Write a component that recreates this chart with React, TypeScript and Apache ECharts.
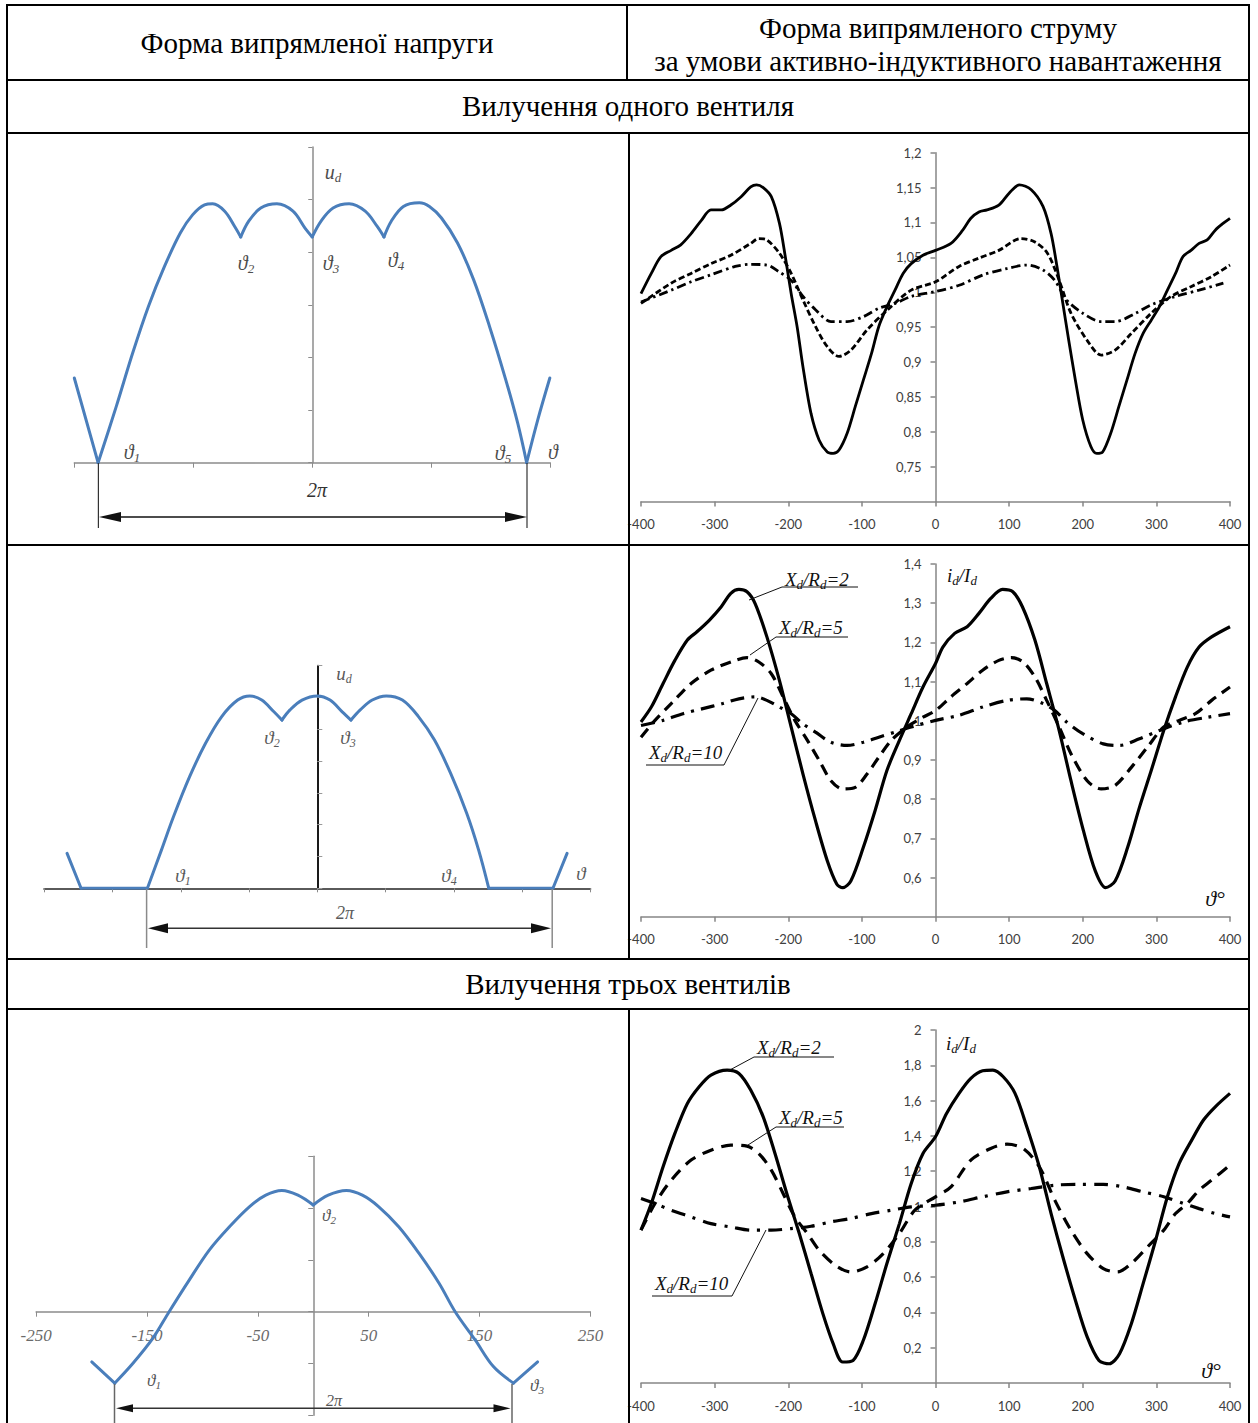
import React, { useEffect, useRef } from 'react';
import * as echarts from 'echarts';

type Pt = [number, number];

// ---------- texts ----------
const headerLeft = 'Форма випрямленої напруги';
const headerRight1 = 'Форма випрямленого струму';
const headerRight2 = 'за умови активно-індуктивного навантаження';
const sectionOne = 'Вилучення одного вентиля';
const sectionThree = 'Вилучення трьох вентилів';

// ---------- left panels: rectified voltage (blue) ----------
const leftV1: Pt[] = [[-200,1.61],[-180,0],[-164.7,1.07],[-151,2.08],[-137.7,2.97],[-124.2,3.73],[-110.8,4.37],[-100.6,4.71],[-90.5,4.90],[-83.7,4.92],[-73.6,4.78],[-65.2,4.49],[-60.1,4.29],[-53.4,4.59],[-43.3,4.84],[-29.7,4.92],[-16.2,4.78],[-6.1,4.46],[0,4.29],[7.4,4.59],[17.5,4.84],[31,4.92],[44.5,4.78],[54.6,4.49],[60.3,4.29],[66.4,4.59],[76.6,4.87],[90,4.94],[98.5,4.87],[108.6,4.65],[122,4.18],[135.6,3.48],[149,2.59],[162.6,1.58],[172.7,0.75],[180.2,0],[189.6,0.82],[199.7,1.61]];
const leftV1Cusps = [-180, -60.1, 0, 60.3, 180.2];

const leftV2: Pt[] = [[-219.9,1.10],[-207.6,0],[-149.3,0],[-137,1.20],[-126.4,2.25],[-112.2,3.51],[-98.2,4.56],[-84,5.40],[-70,5.92],[-59.3,6.05],[-48.8,5.92],[-38.1,5.55],[-31.1,5.29],[-24,5.61],[-13.4,5.92],[0,6.05],[11.2,5.92],[21.9,5.55],[29.6,5.29],[37.7,5.61],[48.3,5.92],[60.6,6.05],[74.8,5.92],[88.9,5.40],[103,4.66],[117.1,3.62],[131.3,2.36],[141.8,1.20],[150.7,0],[207.1,0],[219.5,1.10]];
const leftV2Cusps = [-207.6, -149.3, -31.1, 29.6, 150.7, 207.1];

const leftV3: Pt[] = [[-199.8,-0.97],[-179.1,-1.38],[-162.8,-1.00],[-144.6,-0.51],[-130,0],[-111.9,0.61],[-93.8,1.19],[-75.6,1.64],[-57.4,2.03],[-42.8,2.25],[-28.3,2.34],[-13.8,2.25],[0,2.06],[13.5,2.25],[29.9,2.34],[44.3,2.25],[58.9,2.03],[77.1,1.64],[95.3,1.13],[113.5,0.55],[128,0],[146.2,-0.55],[162.5,-1.06],[180.6,-1.38],[202.4,-0.97]];
const leftV3Cusps = [-179.1, 0, 180.6];
const leftX3Labels = [-250, -150, -50, 50, 150, 250];

// ---------- right panels: rectified current ----------
const r1Solid: Pt[] = [[-400,0.998],[-386,1.027],[-373,1.051],[-359,1.060],[-346,1.068],[-332,1.084],[-318,1.103],[-305,1.118],[-291,1.118],[-278,1.125],[-264,1.137],[-251,1.151],[-243,1.154],[-234,1.150],[-223,1.137],[-212,1.099],[-204,1.051],[-196,0.998],[-188,0.951],[-180,0.893],[-169,0.826],[-158,0.788],[-147,0.771],[-139,0.769],[-131,0.774],[-120,0.798],[-109,0.836],[-98,0.874],[-87,0.912],[-77,0.951],[-66,0.979],[-55,1.003],[-44,1.027],[-33,1.041],[-17,1.053],[0,1.060],[21,1.070],[37,1.089],[48,1.106],[59,1.115],[70,1.118],[86,1.125],[100,1.142],[114,1.154],[130,1.147],[146,1.123],[157,1.084],[165,1.037],[173,0.984],[181,0.931],[190,0.874],[200,0.817],[211,0.779],[219,0.769],[227,0.771],[238,0.798],[249,0.836],[260,0.874],[271,0.912],[282,0.941],[293,0.960],[304,0.979],[315,1.003],[326,1.027],[336,1.051],[347,1.060],[358,1.070],[369,1.075],[380,1.089],[391,1.099],[400,1.106]];
const r1Dashed: Pt[] = [[-400,0.984],[-359,1.013],[-332,1.027],[-305,1.041],[-278,1.053],[-251,1.070],[-240,1.077],[-229,1.075],[-212,1.056],[-196,1.027],[-180,0.989],[-163,0.951],[-147,0.922],[-131,0.908],[-115,0.917],[-93,0.946],[-66,0.974],[-33,1.003],[0,1.015],[32,1.037],[59,1.049],[86,1.060],[116,1.077],[135,1.072],[152,1.056],[168,1.017],[184,0.970],[206,0.931],[225,0.910],[244,0.917],[266,0.941],[293,0.970],[320,0.994],[347,1.008],[374,1.022],[400,1.039]];
const r1DashDot: Pt[] = [[-400,0.986],[-359,1.003],[-332,1.015],[-305,1.025],[-272,1.037],[-251,1.040],[-229,1.039],[-212,1.029],[-196,1.017],[-180,0.994],[-163,0.975],[-142,0.958],[-120,0.958],[-98,0.965],[-77,0.977],[-55,0.984],[-33,0.994],[0,1.001],[32,1.010],[65,1.025],[97,1.034],[124,1.039],[146,1.032],[162,1.017],[178,0.989],[200,0.970],[225,0.958],[244,0.958],[272,0.970],[293,0.982],[326,0.994],[358,1.003],[391,1.013]];

const r2Solid: Pt[] = [[-400,0.997],[-386,1.035],[-370,1.095],[-354,1.154],[-337,1.206],[-324,1.227],[-307,1.257],[-291,1.291],[-278,1.325],[-267,1.335],[-256,1.329],[-245,1.299],[-229,1.214],[-212,1.103],[-196,0.984],[-180,0.864],[-163,0.745],[-147,0.643],[-134,0.583],[-126,0.574],[-115,0.591],[-98,0.677],[-82,0.771],[-66,0.873],[-49,0.950],[-33,1.018],[-17,1.086],[0,1.146],[10,1.188],[26,1.223],[43,1.240],[59,1.274],[75,1.312],[91,1.335],[105,1.329],[118,1.291],[135,1.206],[151,1.095],[168,0.975],[184,0.847],[201,0.719],[217,0.617],[231,0.574],[244,0.591],[261,0.677],[277,0.779],[293,0.873],[310,0.975],[326,1.061],[342,1.137],[358,1.188],[375,1.214],[400,1.240]];
const r2Dashed: Pt[] = [[-400,0.958],[-381,1.001],[-359,1.044],[-332,1.095],[-305,1.129],[-278,1.150],[-256,1.161],[-240,1.150],[-223,1.120],[-207,1.061],[-191,1.001],[-174,0.950],[-158,0.899],[-142,0.847],[-126,0.826],[-109,0.830],[-93,0.864],[-77,0.907],[-60,0.950],[-39,0.984],[-17,1.009],[0,1.026],[21,1.061],[43,1.095],[64,1.129],[86,1.154],[103,1.161],[119,1.150],[135,1.112],[151,1.052],[168,0.984],[184,0.916],[206,0.847],[225,0.826],[244,0.835],[266,0.881],[288,0.933],[310,0.984],[331,1.001],[353,1.018],[375,1.052],[400,1.086]];
const r2DashDot: Pt[] = [[-400,0.988],[-370,1.001],[-343,1.018],[-316,1.031],[-289,1.044],[-267,1.056],[-245,1.061],[-229,1.052],[-212,1.035],[-196,1.018],[-180,0.992],[-163,0.971],[-142,0.945],[-120,0.937],[-98,0.945],[-77,0.958],[-55,0.971],[-33,0.984],[0,1.001],[32,1.014],[64,1.035],[97,1.052],[124,1.056],[146,1.044],[162,1.026],[178,0.997],[200,0.967],[228,0.941],[250,0.937],[277,0.954],[304,0.975],[337,0.997],[370,1.009],[400,1.018]];

const r3Solid: Pt[] = [[-400,0.866],[-386,1.017],[-370,1.225],[-354,1.414],[-337,1.584],[-321,1.679],[-305,1.745],[-283,1.773],[-267,1.754],[-251,1.660],[-234,1.508],[-218,1.300],[-202,1.074],[-185,0.847],[-169,0.620],[-153,0.393],[-139,0.223],[-126,0.119],[-112,0.128],[-98,0.242],[-82,0.450],[-66,0.677],[-49,0.903],[-33,1.130],[-17,1.300],[0,1.395],[15,1.527],[32,1.641],[48,1.726],[64,1.769],[78,1.773],[92,1.735],[108,1.641],[124,1.452],[141,1.225],[157,0.960],[173,0.714],[190,0.469],[206,0.261],[222,0.128],[236,0.109],[250,0.166],[266,0.336],[282,0.563],[299,0.809],[315,1.055],[331,1.244],[348,1.376],[364,1.490],[380,1.565],[400,1.641]];
const r3Dashed: Pt[] = [[-400,0.866],[-381,1.017],[-359,1.149],[-332,1.263],[-305,1.319],[-278,1.348],[-256,1.342],[-240,1.300],[-223,1.206],[-207,1.074],[-191,0.941],[-174,0.847],[-158,0.752],[-136,0.667],[-115,0.629],[-93,0.658],[-71,0.733],[-49,0.847],[-28,0.979],[0,1.055],[21,1.111],[48,1.263],[75,1.329],[97,1.353],[119,1.329],[141,1.225],[162,1.036],[184,0.866],[206,0.733],[228,0.648],[247,0.629],[266,0.677],[288,0.771],[310,0.866],[326,0.960],[342,1.017],[358,1.092],[375,1.149],[400,1.234]];
const r3DashDot: Pt[] = [[-400,1.045],[-381,1.017],[-359,0.979],[-332,0.941],[-305,0.903],[-278,0.884],[-251,0.866],[-223,0.866],[-196,0.875],[-169,0.888],[-142,0.913],[-115,0.932],[-87,0.960],[-60,0.979],[-33,0.998],[0,1.007],[32,1.026],[64,1.055],[97,1.083],[130,1.102],[162,1.121],[195,1.125],[228,1.125],[255,1.111],[282,1.083],[310,1.055],[337,1.017],[358,0.988],[380,0.960],[400,0.941]];

const SERIF = '"Liberation Serif", "Times New Roman", serif';
const SANS = 'Lato, "Open Sans", sans-serif';
const BLUE = '#4a7ebb';
const AXG = '#868686';

function splitAtCusps(data: Pt[], cusps: number[]): Pt[][] {
  const segs: Pt[][] = [];
  let cur: Pt[] = [];
  data.forEach((p) => {
    cur.push(p);
    if (cusps.indexOf(p[0]) >= 0 && cur.length > 1) {
      segs.push(cur);
      cur = [p];
    }
  });
  if (cur.length > 1) segs.push(cur);
  return segs;
}

const fmtComma = (v: number) => String(Math.round(v * 100) / 100).replace('.', ',');

function line(x1: number, y1: number, x2: number, y2: number, color = '#000', w = 2) {
  return { type: 'line', z: 100, shape: { x1, y1, x2, y2 }, style: { stroke: color, lineWidth: w } };
}
function poly(points: number[][], color = '#111') {
  return { type: 'polygon', z: 100, shape: { points }, style: { fill: color } };
}
function plainText(x: number, y: number, text: string, size: number, color = '#000') {
  return {
    type: 'text', z: 100, x, y,
    style: { text, fontFamily: SERIF, fontSize: size, fill: color, align: 'center', verticalAlign: 'middle' },
  };
}
function rich(x: number, y: number, text: string, size: number, sub: number, color: string, align = 'center') {
  return {
    type: 'text', z: 100, x, y,
    style: {
      text,
      align,
      verticalAlign: 'middle',
      rich: {
        m: { fontFamily: SERIF, fontStyle: 'italic', fontSize: size, lineHeight: size + 4, fill: color },
        s: { fontFamily: SERIF, fontStyle: 'italic', fontSize: sub, lineHeight: sub, verticalAlign: 'bottom', fill: color },
      },
    },
  };
}
const th = (n: string) => `{m|ϑ}{s|${n}}`;
const xr = (n: string) => `{m|X}{s|d}{m|/R}{s|d}{m|=${n}}`;
const iI = '{m|i}{s|d}{m|/I}{s|d}';

function buildOption() {
  const grids = [
    { left: 74.3, top: 147, width: 475.9, height: 315.7 },
    { left: 641, top: 152.7, width: 589, height: 348.9 },
    { left: 44.2, top: 665.7, width: 546.2, height: 222.6 },
    { left: 641, top: 564, width: 589, height: 352.7 },
    { left: 36.1, top: 1156.3, width: 554.3, height: 259 },
    { left: 641, top: 1030, width: 589, height: 353 },
  ].map((g) => ({ ...g, outerBoundsMode: 'none', containLabel: false }));

  const rightX = (gi: number) => ({
    type: 'value', gridIndex: gi, min: -400, max: 400, interval: 100,
    axisLine: { show: true, onZero: false, lineStyle: { color: AXG, width: 1.5 } },
    axisTick: { show: true, length: 5, lineStyle: { color: AXG, width: 1.5 } },
    axisLabel: { color: '#404040', fontFamily: SANS, fontSize: 13, margin: 16 },
    splitLine: { show: false },
  });
  const rightY = (gi: number, min: number, max: number, interval: number) => ({
    type: 'value', gridIndex: gi, min, max, interval, position: 'left', offset: -294.5,
    axisLine: { show: true, onZero: false, lineStyle: { color: AXG, width: 1.5 } },
    axisTick: { show: true, length: 5, lineStyle: { color: AXG, width: 1.5 } },
    axisLabel: { color: '#404040', fontFamily: SANS, fontSize: 13, margin: 14, showMinLabel: false, formatter: fmtComma },
    splitLine: { show: false },
  });

  const xAxis = [
    {
      type: 'value', gridIndex: 0, min: -200, max: 200, interval: 100,
      axisLine: { show: true, onZero: true, lineStyle: { color: '#8c8c8c', width: 1.5 } },
      axisTick: { show: true, length: 5, lineStyle: { color: '#8c8c8c' } },
      axisLabel: { show: false }, splitLine: { show: false },
    },
    rightX(1),
    {
      type: 'value', gridIndex: 2, min: -240, max: 240, interval: 60,
      axisLine: { show: true, onZero: true, lineStyle: { color: '#5a5a5a', width: 2 } },
      axisTick: { show: true, length: 4, lineStyle: { color: '#8a8a8a' } },
      axisLabel: { show: false }, splitLine: { show: false },
    },
    rightX(3),
    {
      type: 'value', gridIndex: 4, min: -250, max: 250, interval: 50, position: 'bottom', offset: -103.6,
      axisLine: { show: true, onZero: false, lineStyle: { color: '#8c8c8c', width: 1.5 } },
      axisTick: { show: true, length: 5, customValues: leftX3Labels, lineStyle: { color: '#8c8c8c' } },
      axisLabel: { show: true, customValues: leftX3Labels, fontFamily: SERIF, fontStyle: 'italic', fontSize: 17, color: '#6a6a6a', margin: 15 },
      splitLine: { show: false },
    },
    rightX(5),
  ];
  const yAxis = [
    {
      type: 'value', gridIndex: 0, min: 0, max: 6, interval: 1,
      axisLine: { show: true, onZero: true, lineStyle: { color: '#8c8c8c', width: 1.5 } },
      axisTick: { show: true, length: 4, lineStyle: { color: '#8c8c8c' } },
      axisLabel: { show: false }, splitLine: { show: false },
    },
    rightY(1, 0.7, 1.2, 0.05),
    {
      type: 'value', gridIndex: 2, min: 0, max: 7, interval: 1,
      axisLine: { show: true, onZero: true, lineStyle: { color: '#1a1a1a', width: 2 } },
      axisTick: { show: true, inside: true, length: 5, lineStyle: { color: '#999' } },
      axisLabel: { show: false }, splitLine: { show: false },
    },
    rightY(3, 0.5, 1.4, 0.1),
    {
      type: 'value', gridIndex: 4, min: -2, max: 3, interval: 1,
      axisLine: { show: true, onZero: true, lineStyle: { color: '#8c8c8c', width: 1.5 } },
      axisTick: { show: true, length: 5, lineStyle: { color: '#8c8c8c' } },
      axisLabel: { show: false }, splitLine: { show: false },
    },
    rightY(5, 0, 2, 0.2),
  ];

  const series: any[] = [];
  const blue = (gi: number, data: Pt[], cusps: number[]) => {
    splitAtCusps(data, cusps).forEach((seg) => {
      series.push({
        type: 'line', xAxisIndex: gi, yAxisIndex: gi, data: seg, smooth: 0.35,
        symbol: 'none', silent: true, lineStyle: { color: BLUE, width: 3, cap: 'round', join: 'round' },
      });
    });
  };
  blue(0, leftV1, leftV1Cusps);
  blue(2, leftV2, leftV2Cusps);
  blue(4, leftV3, leftV3Cusps);

  const rightPanels = [
    { gi: 1, s: r1Solid, d: r1Dashed, dd: r1DashDot, w: 2.8, dash: [6, 3], dd2: [9, 4, 2.5, 4] },
    { gi: 3, s: r2Solid, d: r2Dashed, dd: r2DashDot, w: 3.2, dash: [11, 7], dd2: [14, 7, 3, 7] },
    { gi: 5, s: r3Solid, d: r3Dashed, dd: r3DashDot, w: 3.2, dash: [12, 8], dd2: [14, 8, 3, 8] },
  ];
  rightPanels.forEach((p) => {
    const base = { type: 'line', xAxisIndex: p.gi, yAxisIndex: p.gi, smooth: 0.3, symbol: 'none', silent: true };
    series.push({ ...base, data: p.s, lineStyle: { color: '#000', width: p.w } });
    series.push({ ...base, data: p.d, lineStyle: { color: '#000', width: p.w, type: p.dash } });
    series.push({ ...base, data: p.dd, lineStyle: { color: '#000', width: p.w, type: p.dd2 } });
  });

  const g: any[] = [];
  // table
  g.push(line(6, 5, 1250, 5));
  g.push(line(7, 4, 7, 1423));
  g.push(line(1249, 4, 1249, 1423));
  g.push(line(627, 5, 627, 80));
  [80, 133, 545, 959, 1009].forEach((y) => g.push(line(7, y, 1249, y)));
  g.push(line(629, 133, 629, 959));
  g.push(line(629, 1009, 629, 1423));
  // header texts
  g.push(plainText(317, 43, headerLeft, 29));
  g.push(plainText(938, 28, headerRight1, 29));
  g.push(plainText(938, 61, headerRight2, 29));
  g.push(plainText(628, 106, sectionOne, 29));
  g.push(plainText(628, 984, sectionThree, 29));

  // left panel 1 labels
  const c1 = '#4d4d4d';
  g.push(rich(333, 172, '{m|u}{s|d}', 20, 13, c1));
  g.push(rich(246, 263, th('2'), 20, 13, c1));
  g.push(rich(331, 263, th('3'), 20, 13, c1));
  g.push(rich(396, 260, th('4'), 20, 13, c1));
  g.push(rich(132, 452, th('1'), 20, 13, c1));
  g.push(rich(503, 453, th('5'), 20, 13, c1));
  g.push(rich(553, 452, '{m|ϑ}', 20, 13, c1));
  g.push(rich(317, 490, '{m|2π}', 20, 13, '#333'));
  g.push(line(98.4, 463, 98.4, 528, '#333', 1.2));
  g.push(line(527, 463, 527, 528, '#333', 1.2));
  g.push(line(112, 517, 514, 517, '#111', 1.5));
  g.push(poly([[99, 517], [121, 512], [121, 522]]));
  g.push(poly([[527, 517], [505, 512], [505, 522]]));

  // left panel 2 labels
  const c2 = '#5a5a5a';
  g.push(rich(344, 673, '{m|u}{s|d}', 19, 12, c2));
  g.push(rich(272, 737, th('2'), 19, 12, c2));
  g.push(rich(348, 737, th('3'), 19, 12, c2));
  g.push(rich(183, 875, th('1'), 19, 12, c2));
  g.push(rich(449, 875, th('4'), 19, 12, c2));
  g.push(rich(581, 873, '{m|ϑ}', 19, 12, c2));
  g.push(rich(345, 913, '{m|2π}', 18, 12, c2));
  g.push(line(146.6, 889, 146.6, 948, '#8a8a8a', 1.5));
  g.push(line(552.2, 889, 552.2, 948, '#8a8a8a', 1.5));
  g.push(line(160, 928.3, 540, 928.3, '#333', 1.5));
  g.push(poly([[148, 928.3], [168, 923.3], [168, 933.3]]));
  g.push(poly([[551, 928.3], [531, 923.3], [531, 933.3]]));

  // left panel 3 labels
  const c3 = '#555';
  g.push(rich(329, 1215, th('2'), 17, 11, c3));
  g.push(rich(154, 1380, th('1'), 17, 11, c3));
  g.push(rich(537, 1385, th('3'), 17, 11, c3));
  g.push(rich(334, 1400, '{m|2π}', 16, 11, c3));
  g.push(line(114.5, 1384, 114.5, 1423, '#666', 1.5));
  g.push(line(512, 1384, 512, 1423, '#666', 1.5));
  g.push(line(125, 1408.3, 500, 1408.3, '#333', 1.5));
  g.push(poly([[116, 1408.3], [133, 1404.3], [133, 1412.3]]));
  g.push(poly([[510.5, 1408.3], [493.5, 1404.3], [493.5, 1412.3]]));

  // right panel 2 annotations
  const ca = '#111';
  g.push(rich(962, 575, iI, 19, 13, ca));
  g.push(rich(1215, 898, '{m|ϑ°}', 22, 13, ca));
  g.push(rich(785, 579, xr('2'), 19, 13, ca, 'left'));
  g.push(line(782, 587, 858, 587, '#111', 1));
  g.push(line(782, 587, 749, 600, '#111', 1));
  g.push(rich(779, 627, xr('5'), 19, 13, ca, 'left'));
  g.push(line(776, 637, 848, 637, '#111', 1));
  g.push(line(776, 637, 750, 655, '#111', 1));
  g.push(rich(649, 752, xr('10'), 19, 13, ca, 'left'));
  g.push(line(646, 765, 724, 765, '#111', 1));
  g.push(line(724, 765, 758, 698, '#111', 1));

  // right panel 3 annotations
  g.push(rich(961, 1043, iI, 19, 13, ca));
  g.push(rich(1211, 1370, '{m|ϑ°}', 22, 13, ca));
  g.push(rich(757, 1047, xr('2'), 19, 13, ca, 'left'));
  g.push(line(754, 1057, 834, 1057, '#111', 1));
  g.push(line(754, 1057, 728, 1071, '#111', 1));
  g.push(rich(779, 1117, xr('5'), 19, 13, ca, 'left'));
  g.push(line(776, 1127, 844, 1127, '#111', 1));
  g.push(line(776, 1127, 748, 1145, '#111', 1));
  g.push(rich(655, 1283, xr('10'), 19, 13, ca, 'left'));
  g.push(line(652, 1296, 732, 1296, '#111', 1));
  g.push(line(732, 1296, 766, 1230, '#111', 1));

  return {
    animation: false,
    backgroundColor: '#fff',
    grid: grids,
    xAxis,
    yAxis,
    series,
    graphic: { elements: g },
  };
}

export default function App() {
  const ref = useRef<HTMLDivElement>(null);
  useEffect(() => {
    if (!ref.current) return;
    const chart = echarts.init(ref.current, null, { renderer: 'svg' });
    chart.setOption(buildOption() as any);
    return () => chart.dispose();
  }, []);
  return (
    <div
      ref={ref}
      style={{ position: 'absolute', left: 0, top: 0, width: 1258, height: 1423, background: '#fff' }}
    />
  );
}
